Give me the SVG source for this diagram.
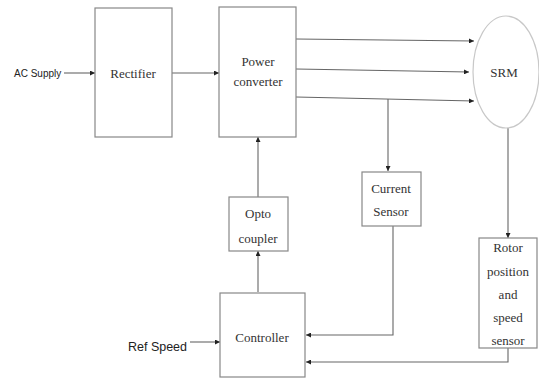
<svg xmlns="http://www.w3.org/2000/svg" width="539" height="379" viewBox="0 0 539 379">
<defs>
<style>
.box{fill:#fff;stroke:#888;stroke-width:1.2}
.ln{fill:none;stroke:#666;stroke-width:1.1}
.t{font-family:"Liberation Serif",serif;font-size:13px;fill:#333;text-anchor:middle}
.s{font-family:"Liberation Sans",sans-serif;font-size:11px;fill:#222}
</style>
<marker id="ah" viewBox="0 0 6 6" refX="6" refY="3" markerWidth="5" markerHeight="5" orient="auto" markerUnits="userSpaceOnUse">
<path d="M0,0 L6,3 L0,6 z" fill="#222"/>
</marker>
</defs>
<rect width="539" height="379" fill="#fff"/>
<g id="connectors">
<path class="ln" d="M64,73 H95" marker-end="url(#ah)"/>
<path class="ln" d="M172,73 H219" marker-end="url(#ah)"/>
<path class="ln" d="M296,39 L474,41" marker-end="url(#ah)"/>
<path class="ln" d="M296,69 L469,72" marker-end="url(#ah)"/>
<path class="ln" d="M296,97 L474,101" marker-end="url(#ah)"/>
<path class="ln" d="M388,99 V171" marker-end="url(#ah)"/>
<path class="ln" d="M508,128 V238" marker-end="url(#ah)"/>
<path class="ln" d="M258,292 V251" marker-end="url(#ah)"/>
<path class="ln" d="M258,197 V137" marker-end="url(#ah)"/>
<path class="ln" d="M393,226 V335 H306" marker-end="url(#ah)"/>
<path class="ln" d="M508,348 V362 H306" marker-end="url(#ah)"/>
<path class="ln" d="M190,342 H220" marker-end="url(#ah)"/>
</g>
<g id="ac-supply"><text class="s" x="14" y="77" style="font-size:10px">AC Supply</text></g>
<g id="ref-speed"><text class="s" x="128" y="351" style="font-size:13px" textLength="59" lengthAdjust="spacingAndGlyphs">Ref Speed</text></g>
<g id="rectifier">
<rect class="box" x="95" y="8" width="77" height="129"/>
<text class="t" x="133" y="78">Rectifier</text>
</g>
<g id="power-converter">
<rect class="box" x="219" y="7" width="77" height="130"/>
<text class="t" x="258" y="66">Power</text>
<text class="t" x="258" y="86">converter</text>
</g>
<g id="srm">
<ellipse cx="506" cy="72" rx="33" ry="56" fill="#fff" stroke="#c8c8c8" stroke-width="1.2"/>
<text class="t" x="504" y="77">SRM</text>
</g>
<g id="current-sensor">
<rect class="box" x="362" y="172" width="59" height="54"/>
<text class="t" x="391" y="193">Current</text>
<text class="t" x="391" y="216">Sensor</text>
</g>
<g id="opto-coupler">
<rect class="box" x="229" y="197" width="59" height="54"/>
<text class="t" x="258" y="218">Opto</text>
<text class="t" x="258" y="243">coupler</text>
</g>
<g id="rotor-sensor">
<rect class="box" x="479" y="238" width="58" height="110"/>
<text class="t" x="508" y="252">Rotor</text>
<text class="t" x="508" y="276">position</text>
<text class="t" x="508" y="299">and</text>
<text class="t" x="508" y="322">speed</text>
<text class="t" x="508" y="345">sensor</text>
</g>
<g id="controller">
<rect class="box" x="220" y="293" width="85" height="84"/>
<text class="t" x="262" y="342">Controller</text>
</g>
</svg>
